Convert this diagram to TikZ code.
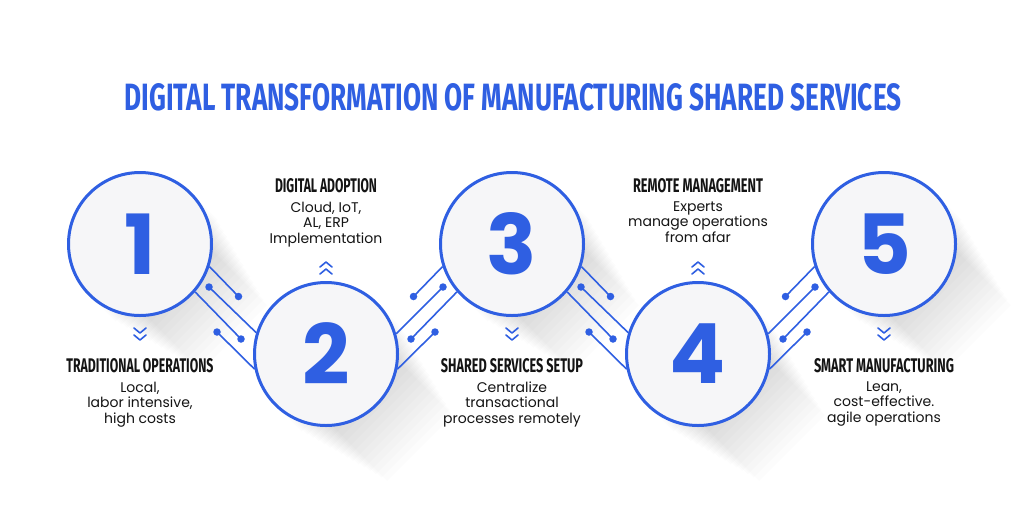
\documentclass[tikz,border=0pt]{standalone}
\usepackage{fontspec}
\usepackage{graphicx}
\setmainfont{Poppins}
\newfontfamily\headfont{Fira Sans}
\definecolor{brandblue}{RGB}{47,95,226}
\definecolor{ink}{RGB}{20,20,20}
\definecolor{disc}{RGB}{246,246,248}
\newcommand{\hd}[2]{\resizebox{#1}{14pt}{\headfont\bfseries #2}}
\begin{document}
\begin{tikzpicture}[x=1pt,y=-1pt,
  stepcircle/.style={circle, draw=brandblue, line width=3pt, fill=disc, minimum size=143pt, inner sep=0pt, font=\fontsize{83}{83}\selectfont\bfseries, text=brandblue},
  wire/.style={draw=brandblue, line width=1.6pt},
  dotend/.style={circle, fill=brandblue, inner sep=0pt, minimum size=7.5pt},
  chev/.style={draw=brandblue, line width=1.6pt, line cap=round, line join=round},
  heading/.style={text=ink, inner sep=0pt, anchor=base},
  bodytext/.style={text=ink, inner sep=0pt, align=center, font=\fontsize{14}{15.5}\selectfont, anchor=north},
]
\fill[white] (0,0) rectangle (1024,512);
\useasboundingbox (0,0) rectangle (1024,512);

% soft diagonal shadows
\foreach \cx/\cy in {140/244, 326/354, 512/244, 698/354, 884/244} {
  \foreach \k in {1,...,16} {
    \pgfmathsetmacro{\q}{52-1.2*\k}
    \pgfmathsetmacro{\s}{22+4.5*\k}
    \fill[black, opacity=0.011] (\cx+\q,\cy-\q) -- (\cx-\q,\cy+\q) -- ++(\s,\s) -- (\cx+\q+\s,\cy-\q+\s) -- cycle;
  }
}

% title
\node[anchor=base, inner sep=0pt, text=brandblue] (title) at (513,110)
  {\resizebox{777pt}{27pt}{\headfont\bfseries DIGITAL TRANSFORMATION OF MANUFACTURING SHARED SERVICES}};

% dot ends of the connectors
\foreach \n/\x/\y in {a12/238.5/296.5, b12/209/287, e12/241/339, d12/217/332,
                      a34/610.5/296.5, b34/581/287, e34/613/339, d34/589/332,
                      a23/413.5/296.5, b23/443/287, e23/411/339, d23/435/332,
                      a45/785.5/296.5, b45/815/287, e45/783/339, d45/807/332}
  \node[dotend] (\n) at (\x,\y) {};

% circles
\node[stepcircle] (c1) at (140,244) {1};
\node[stepcircle] (c2) at (326,354) {2};
\node[stepcircle] (c3) at (512,244) {3};
\node[stepcircle] (c4) at (698,354) {4};
\node[stepcircle] (c5) at (884,244) {5};

% connectors
\draw[wire] (c1.-18.5) -- (a12.center);
\draw[wire] (b12.center) -- (c2.163.9);
\draw[wire] (c1.-41.7) -- (e12.center);
\draw[wire] (d12.center) -- (c2.192.4);

\draw[wire] (c3.-18.5) -- (a34.center);
\draw[wire] (b34.center) -- (c4.163.9);
\draw[wire] (c3.-41.7) -- (e34.center);
\draw[wire] (d34.center) -- (c4.192.4);

\draw[wire] (c3.198.5) -- (a23.center);
\draw[wire] (b23.center) -- (c2.16.1);
\draw[wire] (c3.221.7) -- (e23.center);
\draw[wire] (d23.center) -- (c2.-12.4);

\draw[wire] (c5.198.5) -- (a45.center);
\draw[wire] (b45.center) -- (c4.16.1);
\draw[wire] (c5.221.7) -- (e45.center);
\draw[wire] (d45.center) -- (c4.-12.4);

% chevrons
\foreach \x in {140,512,884} {
  \draw[chev] (\x-6,328) -- (\x,333) -- (\x+6,328);
  \draw[chev] (\x-6,335) -- (\x,340) -- (\x+6,335);
}
\foreach \x in {326,698} {
  \draw[chev] (\x-6,267) -- (\x,262) -- (\x+6,267);
  \draw[chev] (\x-6,274) -- (\x,269) -- (\x+6,274);
}

% headings
\node[heading] (h1) at (140,372) {\hd{147pt}{TRADITIONAL OPERATIONS}};
\node[heading] (h2) at (326,192) {\hd{102pt}{DIGITAL ADOPTION}};
\node[heading] (h3) at (512,372) {\hd{142pt}{SHARED SERVICES SETUP}};
\node[heading] (h4) at (698,192) {\hd{130pt}{REMOTE MANAGEMENT}};
\node[heading] (h5) at (884,372) {\hd{140pt}{SMART MANUFACTURING}};

% body texts
\node[bodytext] (t1) at (140,381.5) {Local,\\labor intensive,\\high costs};
\node[bodytext] (t2) at (326,201.5) {Cloud, IoT,\\AL, ERP\\Implementation};
\node[bodytext] (t3) at (512,381.5) {Centralize\\transactional\\processes remotely};
\node[bodytext] (t4) at (698,201.5) {Experts\\manage operations\\from afar};
\node[bodytext] (t5) at (884,381.5) {Lean,\\cost-effective.\\agile operations};
\end{tikzpicture}
\end{document}
